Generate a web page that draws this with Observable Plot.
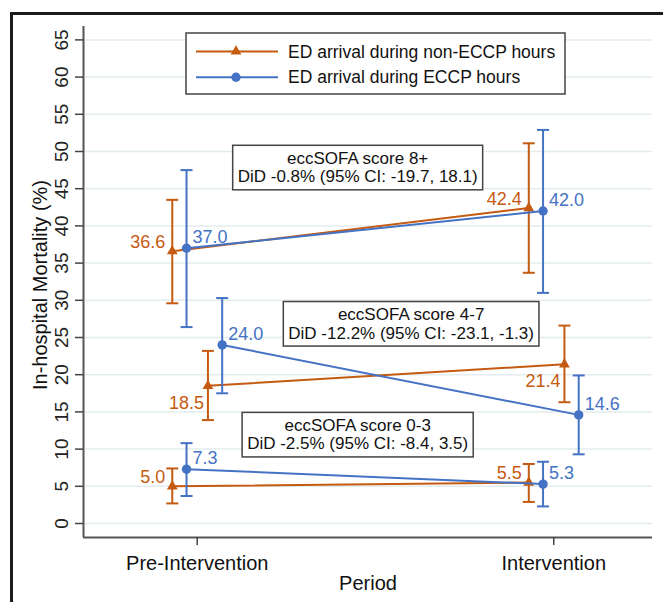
<!DOCTYPE html>
<html><head><meta charset="utf-8">
<script src="https://cdn.jsdelivr.net/npm/d3@7"></script>
<script src="https://cdn.jsdelivr.net/npm/@observablehq/plot@0.6"></script>
<style>
html,body{margin:0;padding:0;background:#fff;}
#wrap{position:relative;width:663px;height:602px;overflow:hidden;font-family:"Liberation Sans",Arial,sans-serif;}
#frame{position:absolute;left:10px;top:12px;width:720px;height:720px;border-left:3px solid #1b1b1b;border-top:3px solid #1b1b1b;pointer-events:none;}
</style></head><body>
<div id="wrap"><div id="chart"></div><div id="frame"></div></div>
<script>
// ---- data ----
const periods = ["Pre-Intervention", "Intervention"];
const groups = ["eccSOFA score 8+", "eccSOFA score 4-7", "eccSOFA score 0-3"];
const seriesNames = ["ED arrival during non-ECCP hours", "ED arrival during ECCP hours"];
// by group, [pre, intervention]
const nonEccpEst = [[36.6, 42.4], [18.5, 21.4], [5.0, 5.5]];
const nonEccpLo  = [[29.6, 33.7], [13.9, 16.3], [2.7, 2.9]];
const nonEccpHi  = [[43.5, 51.1], [23.2, 26.6], [7.4, 8.0]];
const eccpEst    = [[37.0, 42.0], [24.0, 14.6], [7.3, 5.3]];
const eccpLo     = [[26.4, 31.0], [17.5, 9.3], [3.7, 2.3]];
const eccpHi     = [[47.5, 52.9], [30.3, 19.9], [10.8, 8.3]];
const didLabels = ["DiD -0.8% (95% CI: -19.7, 18.1)", "DiD -12.2% (95% CI: -23.1, -1.3)", "DiD -2.5% (95% CI: -8.4, 3.5)"];
// annotation anchors (data units)
const annX = [0.45, 0.60, 0.45];
const annY = [47.9, 26.9, 12.0];
const yTicks = [0,5,10,15,20,25,30,35,40,45,50,55,60,65];

// ---- layout / style ----
const orange = "#c55a11", blue = "#4472c4";
const groupOffset = [-0.05, 0.05, -0.05];
const seriesOffset = [-0.02, 0.02];
const xDomain = [-0.319, 1.277], yDomain = [-1.88, 66.8];
const font = "'Liberation Sans', Arial, sans-serif";

const rows = [];
const sets = [[nonEccpEst, nonEccpLo, nonEccpHi], [eccpEst, eccpLo, eccpHi]];
sets.forEach(([E, L, H], s) => {
  groups.forEach((g, gi) => {
    periods.forEach((p, pi) => {
      rows.push({series: seriesNames[s], si: s, group: g, gi, period: p,
        x: pi + groupOffset[gi] + seriesOffset[s], est: E[gi][pi], lo: L[gi][pi], hi: H[gi][pi]});
    });
  });
});
const ann = groups.map((g, i) => ({x: annX[i], y: annY[i], text: g + "\n" + didLabels[i]}));

const capSymbol = {draw(ctx, size) { const w = Math.sqrt(size / Math.PI); ctx.moveTo(-w, 0); ctx.lineTo(w, 0); }};

function seriesMarks(si) {
  const d = rows.filter(r => r.si === si);
  const c = si === 0 ? orange : blue;
  return [
    Plot.line(d, {x: "x", y: "est", z: "group", stroke: c, strokeWidth: 2}),
    Plot.ruleX(d, {x: "x", y1: "lo", y2: "hi", stroke: c, strokeWidth: 2}),
    Plot.dot(d, {x: "x", y: "lo", symbol: capSymbol, r: 6, stroke: c, strokeWidth: 2, fill: "none"}),
    Plot.dot(d, {x: "x", y: "hi", symbol: capSymbol, r: 6, stroke: c, strokeWidth: 2, fill: "none"}),
    Plot.dot(d, {x: "x", y: "est", symbol: si === 0 ? "triangle" : "circle", r: si === 0 ? 4 : 4.7, fill: c, stroke: "none"})
  ];
}
const lbl = {text: d => d.est.toFixed(1), fontSize: 18, fontFamily: font, lineAnchor: "middle"};

const plot = Plot.plot({
  width: 663, height: 602,
  marginLeft: 83, marginRight: 11, marginTop: 26, marginBottom: 65,
  style: {fontFamily: font, background: "transparent", overflow: "visible"},
  x: {domain: xDomain, axis: null},
  y: {domain: yDomain, axis: null},
  marks: [
    Plot.gridY(yTicks, {stroke: "#e3ecef", strokeOpacity: 1, strokeWidth: 1.5}),
    Plot.ruleX([xDomain[0]], {stroke: "#555", strokeWidth: 2}),
    Plot.ruleY([yDomain[0]], {stroke: "#555", strokeWidth: 2}),
    Plot.axisY({ticks: yTicks, tickSize: 8, tickFormat: () => "", stroke: "#444", strokeWidth: 1.5}),
    Plot.text(yTicks, {frameAnchor: "left", y: d => d, text: d => String(d), rotate: -90, dx: -21.5, fontSize: 19, fill: "#222", textAnchor: "middle", lineAnchor: "middle"}),
    Plot.axisX({ticks: [0, 1], tickSize: 8, tickPadding: 10, tickFormat: i => periods[i], fontSize: 20, stroke: "#444", strokeWidth: 1.5, fill: "#111", label: null}),
    Plot.text(["Period"], {frameAnchor: "bottom", dy: 46, fontSize: 20, fill: "#111", textAnchor: "middle", lineAnchor: "middle"}),
    Plot.text(["In-hospital Mortality (%)"], {frameAnchor: "left", rotate: -90, dx: -43, dy: 3, fontSize: 20, fill: "#111", textAnchor: "middle", lineAnchor: "middle"}),
    ...seriesMarks(0),
    ...seriesMarks(1),
    Plot.text(rows.filter(r => r.si === 0 && r.gi !== 1), {...lbl, x: "x", y: "est", textAnchor: "end", dx: -7, dy: -9, fill: orange}),
    Plot.text(rows.filter(r => r.si === 0 && r.gi === 1), {...lbl, x: "x", y: "est", textAnchor: "end", dx: -4, dy: 17, fill: orange}),
    Plot.text(rows.filter(r => r.si === 1), {...lbl, x: "x", y: "est", textAnchor: "start", dx: 6, dy: -11, fill: blue}),
    Plot.text(ann, {x: "x", y: "y", text: "text", fontSize: 17, lineHeight: 1.09, lineAnchor: "middle", textAnchor: "middle", fill: "#111"})
  ]
});
document.getElementById("chart").appendChild(plot);

// boxes behind annotation texts
const svg = d3.select(plot);
svg.selectAll("text").filter(function() { return this.textContent.startsWith("eccSOFA"); }).each(function() {
  const b = this.getBBox();
  const r = document.createElementNS("http://www.w3.org/2000/svg", "rect");
  r.setAttribute("x", b.x - 5); r.setAttribute("y", b.y - 3.5);
  r.setAttribute("width", b.width + 10); r.setAttribute("height", b.height + 7);
  r.setAttribute("fill", "#fff"); r.setAttribute("stroke", "#444"); r.setAttribute("stroke-width", 1.5);
  const t = this.getAttribute("transform"); if (t) r.setAttribute("transform", t);
  this.parentNode.insertBefore(r, this);
});

// legend
const lg = svg.append("g").attr("font-family", font).attr("text-anchor", "start");
lg.append("rect").attr("x", 186).attr("y", 33).attr("width", 379).attr("height", 61)
  .attr("fill", "#fff").attr("stroke", "#444").attr("stroke-width", 1.5);
[[orange, "triangle", 51.5], [blue, "circle", 77.3]].forEach(([c, sym, y], i) => {
  lg.append("line").attr("x1", 196).attr("x2", 278).attr("y1", y).attr("y2", y).attr("stroke", c).attr("stroke-width", 2);
  const s = sym === "triangle" ? d3.symbol(d3.symbolTriangle, Math.PI * 4 * 4) : d3.symbol(d3.symbolCircle, Math.PI * 4.7 * 4.7);
  lg.append("path").attr("d", s()).attr("transform", `translate(236,${y})`).attr("fill", c);
  lg.append("text").attr("x", 288).attr("y", y).attr("dy", "0.35em").attr("font-size", 17.5).attr("fill", "#111").text(seriesNames[i]);
});
</script>
</body></html>
